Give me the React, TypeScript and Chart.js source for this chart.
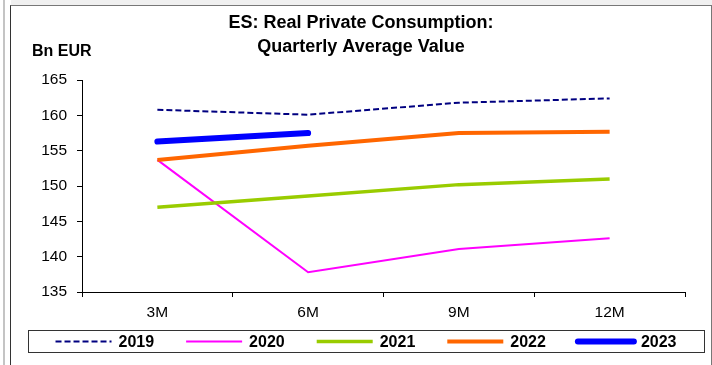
import React, { useEffect, useRef } from "react";
import { Chart, registerables } from "chart.js";

Chart.register(...registerables);

const categories = ["3M", "6M", "9M", "12M"];
const series2019 = [160.8, 160.1, 161.8, 162.4];
const series2020 = [153.7, 137.8, 141.1, 142.6];
const series2021 = [147.0, 148.6, 150.2, 151.0];
const series2022 = [153.7, 155.7, 157.5, 157.7];
const series2023 = [156.3, 157.5, null, null];
const seriesLabels = ["2019", "2020", "2021", "2022", "2023"];
const yMin = 135;
const yMax = 165;
const yStep = 5;
const titleLines = ["ES: Real Private Consumption:", "Quarterly Average Value"];
const unitLabel = "Bn EUR";

const FONT = "'Liberation Sans', Arial, Helvetica, sans-serif";

const unitPlugin = {
  id: "unitLabel",
  afterDraw(chart: any) {
    const ctx = chart.ctx;
    ctx.save();
    ctx.font = `bold 16px ${FONT}`;
    ctx.fillStyle = "#000";
    ctx.textAlign = "left";
    ctx.textBaseline = "middle";
    ctx.fillText(unitLabel, 20, chart.chartArea.top - 28);
    ctx.restore();
  },
};

const boxLegendPlugin = {
  id: "boxLegend",
  afterDraw(chart: any) {
    const ctx = chart.ctx;
    const ca = chart.chartArea;
    const top = ca.bottom + 38;
    const h = 22;
    const left = 16;
    const right = chart.width - 6;
    ctx.save();
    ctx.strokeStyle = "#333";
    ctx.lineWidth = 1;
    ctx.setLineDash([]);
    ctx.strokeRect(left + 0.5, top + 0.5, right - left, h);
    ctx.font = `bold 16px ${FONT}`;
    const lineLen = 56;
    const gap = 7;
    const pad = 32;
    const dss = chart.data.datasets;
    const widths = dss.map((d: any) => lineLen + gap + ctx.measureText(d.label).width);
    const total = widths.reduce((a: number, b: number) => a + b, 0) + pad * (dss.length - 1);
    let x = (left + right) / 2 - total / 2;
    const cy = top + h / 2 + 0.5;
    dss.forEach((d: any, i: number) => {
      ctx.beginPath();
      ctx.strokeStyle = d.borderColor;
      ctx.lineWidth = d.borderWidth;
      ctx.lineCap = d.borderCapStyle || "butt";
      ctx.setLineDash(d.borderDash || []);
      ctx.moveTo(x, cy);
      ctx.lineTo(x + lineLen, cy);
      ctx.stroke();
      ctx.setLineDash([]);
      ctx.fillStyle = "#000";
      ctx.textAlign = "left";
      ctx.textBaseline = "middle";
      ctx.fillText(d.label, x + lineLen + gap, cy + 1);
      x += widths[i] + pad;
    });
    ctx.restore();
  },
};

export default function App() {
  const canvasRef = useRef<HTMLCanvasElement | null>(null);

  useEffect(() => {
    if (!canvasRef.current) return;
    const colors = ["#000080", "#ff00ff", "#99cc00", "#ff6600", "#0000ff"];
    const widths = [2, 2, 3.5, 4, 6];
    const data = [series2019, series2020, series2021, series2022, series2023];
    const datasets = data.map((vals, i) => ({
      label: seriesLabels[i],
      data: vals,
      borderColor: colors[i],
      backgroundColor: colors[i],
      borderWidth: widths[i],
      borderDash: i === 0 ? [6, 3] : [],
      borderCapStyle: i === 4 ? "round" : "butt",
      pointRadius: 0,
      pointHoverRadius: 0,
      tension: 0,
      fill: false,
      spanGaps: false,
      order: data.length - i,
    }));

    const chart = new Chart(canvasRef.current, {
      type: "line",
      data: { labels: categories, datasets: datasets as any },
      plugins: [unitPlugin, boxLegendPlugin],
      options: {
        animation: false,
        responsive: false,
        maintainAspectRatio: false,
        devicePixelRatio: 1,
        layout: { padding: { left: 0, right: 0, top: 0, bottom: 33 } },
        plugins: {
          legend: { display: false },
          tooltip: { enabled: false },
          title: {
            display: true,
            text: titleLines,
            color: "#000",
            font: { family: FONT, size: 18, weight: "bold", lineHeight: 1.28 },
            padding: { top: 6, bottom: 22 },
          },
        },
        scales: {
          x: {
            type: "category",
            offset: true,
            grid: { offset: true, drawOnChartArea: false, drawTicks: true, tickLength: 5, color: "#000" },
            border: { color: "#000", width: 1 },
            ticks: { color: "#000", font: { family: FONT, size: 15.5 }, padding: 6, maxRotation: 0 },
            afterFit: (s: any) => {
              s.height = 40;
            },
          },
          y: {
            min: yMin,
            max: yMax,
            grid: { drawOnChartArea: false, drawTicks: true, tickLength: 5, color: "#000" },
            border: { color: "#000", width: 1 },
            ticks: { stepSize: yStep, color: "#000", font: { family: FONT, size: 15.5 }, padding: 10 },
            afterFit: (s: any) => {
              s.width = 70;
            },
          },
          y2: {
            position: "right",
            display: true,
            grid: { display: false, drawOnChartArea: false },
            border: { display: false },
            ticks: { display: false },
            afterFit: (s: any) => {
              s.width = 25;
            },
          },
        },
      } as any,
    });
    return () => chart.destroy();
  }, []);

  return (
    <div
      style={{
        position: "fixed",
        left: 0,
        top: 0,
        width: 712,
        height: 365,
        background: "#fff",
        overflow: "hidden",
      }}
    >
      <div style={{ position: "absolute", left: 3, top: 0, width: 2, height: 365, background: "#c4c4c4" }} />
      <div style={{ position: "absolute", left: 11, top: 0, width: 701, height: 5, background: "#f0f0f0" }} />
      <div
        style={{
          position: "absolute",
          left: 10,
          top: 5,
          width: 700,
          height: 360,
          borderTop: "1px solid #777",
          borderLeft: "1px solid #333",
          borderRight: "1px solid #777",
        }}
      />
      <canvas
        ref={canvasRef}
        width={698}
        height={359}
        style={{ position: "absolute", left: 12, top: 6, width: 698, height: 359 }}
      />
    </div>
  );
}
